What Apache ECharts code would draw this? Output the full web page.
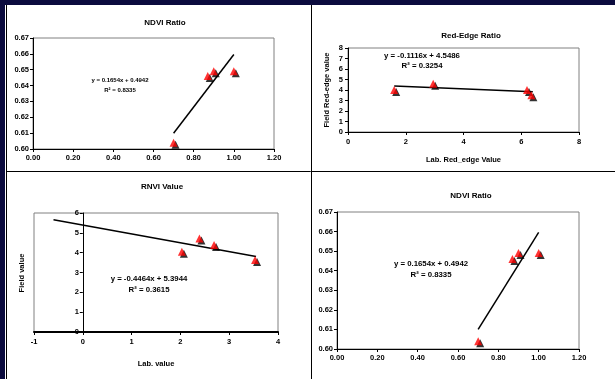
<!DOCTYPE html>
<html><head><meta charset="utf-8">
<script src="https://cdn.jsdelivr.net/npm/echarts@6/dist/echarts.min.js"></script>
<style>html,body{margin:0;padding:0;background:#fff}#c{width:615px;height:379px}</style>
</head><body><div id="c"></div>
<script>
// NDVI Ratio (panels 1 and 4)
const ndviX = [0.70, 0.87, 0.90, 1.00];
const ndviY = [0.604, 0.646, 0.649, 0.649];
const ndviFit = {slope: 0.1654, intercept: 0.4942, xRange: [0.70, 1.00]};
const ndviEq = ['y = 0.1654x + 0.4942', 'R² = 0.8335'];
// Red-Edge Ratio
const reX = [1.6, 2.95, 6.2, 6.35];
const reY = [4.0, 4.6, 4.0, 3.5];
const reFit = {slope: -0.1116, intercept: 4.5486, xRange: [1.6, 6.4]};
const reEq = ['y = -0.1116x + 4.5486', 'R² = 0.3254'];
// RNVI Value
const rnX = [2.03, 2.39, 2.69, 3.53];
const rnY = [4.05, 4.72, 4.39, 3.63];
const rnFit = {slope: -0.4464, intercept: 5.3944, xRange: [-0.6, 3.55]};
const rnEq = ['y = -0.4464x + 5.3944', 'R² = 0.3615'];
const titles = ['NDVI Ratio', 'Red-Edge Ratio', 'RNVI Value', 'NDVI Ratio'];

const FONT = 'Liberation Sans, Arial, sans-serif';
function pts(xs, ys){ return xs.map((x,i)=>[x, ys[i]]); }
function fitLine(f){ return f.xRange.map(x=>[x, f.slope*x + f.intercept]); }

const grids = [
  {left:33, top:38, width:241, height:111},
  {left:348, top:48, width:231, height:84},
  {left:34, top:213, width:244, height:119},
  {left:337, top:212, width:242, height:137}
].map(g=>Object.assign(g,{show:true, borderColor:'#808080', borderWidth:1, backgroundColor:'#fff', containLabel:false, outerBoundsMode:'none'}));

const lbl = (fmt, margin)=>({fontFamily:FONT, fontSize:7.5, fontWeight:'bold', color:'#000', margin:margin, formatter:fmt});
const f2 = v=>Number(v).toFixed(2);
const f0 = v=>String(Math.round(v));
const axisLine = (w, onZero)=>({show:true, onZero:onZero!==false, lineStyle:{color:'#000', width:w||1}});
const tick = {show:true, length:3, lineStyle:{color:'#000'}};
const nameStyle = {fontFamily:FONT, fontSize:7.5, fontWeight:'bold', color:'#000'};

const xAxis = [
  {gridIndex:0, type:'value', min:0, max:1.2, interval:0.2, splitLine:{show:false}, axisLine:axisLine(), axisTick:tick, axisLabel:lbl(f2,5)},
  {gridIndex:1, type:'value', min:0, max:8, interval:2, splitLine:{show:false}, axisLine:axisLine(), axisTick:tick, axisLabel:lbl(f0,6),
   name:'Lab. Red_edge Value', nameLocation:'middle', nameGap:24, nameTextStyle:nameStyle},
  {gridIndex:2, type:'value', min:-1, max:4, interval:1, splitLine:{show:false}, axisLine:axisLine(2), axisTick:tick, axisLabel:lbl(f0,6),
   name:'Lab. value', nameLocation:'middle', nameGap:28, nameTextStyle:nameStyle},
  {gridIndex:3, type:'value', min:0, max:1.2, interval:0.2, splitLine:{show:false}, axisLine:axisLine(), axisTick:tick, axisLabel:lbl(f2,5)}
];
const yAxis = [
  {gridIndex:0, type:'value', min:0.60, max:0.67, interval:0.01, splitLine:{show:false}, axisLine:axisLine(), axisTick:tick, axisLabel:lbl(f2,4)},
  {gridIndex:1, type:'value', min:0, max:8, interval:1, splitLine:{show:false}, axisLine:axisLine(), axisTick:tick, axisLabel:lbl(f0,5),
   name:'Field Red-edge value', nameLocation:'middle', nameGap:17, nameTextStyle:nameStyle},
  // the y axis crosses the x axis at x = 0 (one fifth of the -1..4 span)
  {gridIndex:2, type:'value', min:0, max:6, interval:1, offset:-244/5, splitLine:{show:false}, axisLine:axisLine(1,false), axisTick:tick, axisLabel:lbl(f0,4)},
  {gridIndex:3, type:'value', min:0.60, max:0.67, interval:0.01, splitLine:{show:false}, axisLine:axisLine(), axisTick:tick, axisLabel:lbl(f2,4)}
];

const sets = [[ndviX,ndviY,ndviFit],[reX,reY,reFit],[rnX,rnY,rnFit],[ndviX,ndviY,ndviFit]];
const series = [];
sets.forEach((s,i)=>{
  series.push({type:'line', xAxisIndex:i, yAxisIndex:i, data:fitLine(s[2]), showSymbol:false, symbol:'none',
    lineStyle:{color:'#000', width:1.5}, z:2, animation:false});
  series.push({type:'scatter', xAxisIndex:i, yAxisIndex:i, data:pts(s[0],s[1]), symbol:'triangle', symbolSize:8,
    symbolOffset:[2,2], itemStyle:{color:'#000'}, z:3, animation:false});
  series.push({type:'scatter', xAxisIndex:i, yAxisIndex:i, data:pts(s[0],s[1]), symbol:'triangle', symbolSize:8,
    itemStyle:{color:'#ff0000'}, z:4, animation:false});
});

const titleCfg = [[160,14],[466,27],[157,178],[466,187]];
const title = titles.map((t,i)=>({text:t, left:titleCfg[i][0], top:titleCfg[i][1], textAlign:'center',
  textStyle:{fontFamily:FONT, fontSize:8, fontWeight:'bold', color:'#000'}}));

function eqPos(lines, cx, y1, y2, size){
  return lines.map((t,k)=>({type:'text', x:cx, y:(k===0?y1:y2),
    style:{text:t, font:'bold '+size+'px '+FONT, fill:'#000', textAlign:'center', textVerticalAlign:'middle'}, z:10}));
}
const graphic = [
  {type:'rect', shape:{x:0,y:0,width:615,height:5}, style:{fill:'#0b0b3e'}, z:-1},
  {type:'rect', shape:{x:0,y:0,width:5,height:379}, style:{fill:'#0b0b3e'}, z:-1},
  {type:'line', shape:{x1:6.5,y1:5,x2:6.5,y2:379}, style:{stroke:'#000', lineWidth:1}, z:-1},
  {type:'line', shape:{x1:311.5,y1:5,x2:311.5,y2:379}, style:{stroke:'#000', lineWidth:1}, z:-1},
  {type:'line', shape:{x1:6,y1:171.5,x2:615,y2:171.5}, style:{stroke:'#000', lineWidth:1}, z:-1},
  {type:'text', x:22, y:273, rotation:Math.PI/2,
   style:{text:'Field value', font:'bold 7.5px '+FONT, fill:'#000', textAlign:'center', textVerticalAlign:'middle'}, z:10}
];
graphic.push(...eqPos(ndviEq, 120, 80, 90, 6));
graphic.push(...eqPos(reEq, 422, 56, 66, 7.8));
graphic.push(...eqPos(rnEq, 149, 279, 290, 7.8));
graphic.push(...eqPos(ndviEq, 431, 264, 275, 7.8));

const chart = echarts.init(document.getElementById('c'), null, {renderer:'canvas'});
chart.setOption({animation:false, backgroundColor:'#fff', title, grid:grids, xAxis, yAxis, series, graphic});
</script></body></html>
